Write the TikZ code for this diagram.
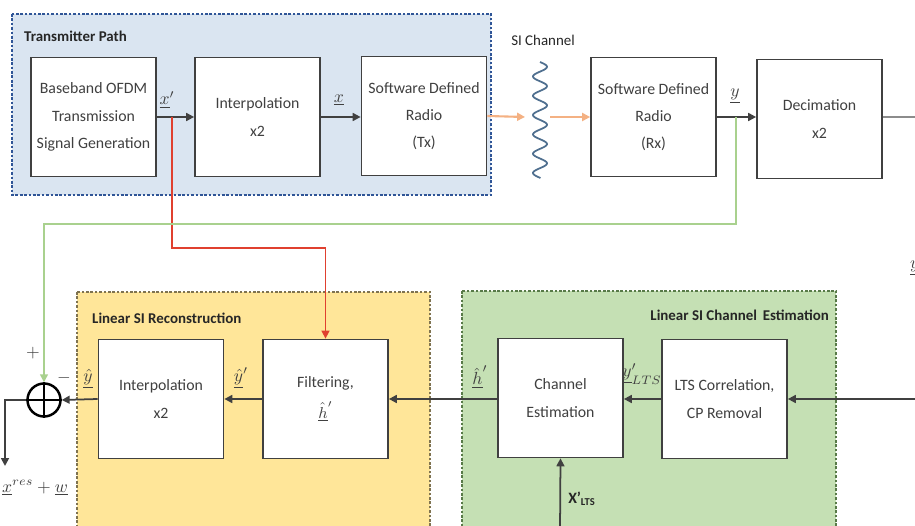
\documentclass[tikz,border=0pt]{standalone}
\usepackage{fontspec}
\setmainfont{Carlito}
\usetikzlibrary{arrows.meta,positioning}

\definecolor{txblue}{HTML}{DAE5F1}
\definecolor{txborder}{HTML}{2F5597}
\definecolor{recyellow}{HTML}{FFE699}
\definecolor{recborder}{HTML}{7F7350}
\definecolor{estgreen}{HTML}{C5E0B4}
\definecolor{estborder}{HTML}{587A48}
\definecolor{wire}{HTML}{404040}
\definecolor{rfwire}{HTML}{F4B183}
\definecolor{loopgreen}{HTML}{A9D18E}
\definecolor{loopred}{HTML}{E0402F}
\definecolor{wavecol}{HTML}{4F6F8F}

\tikzset{
  block/.style={draw=wire, line width=1pt, fill=white, minimum width=2.5cm,
    minimum height=2.38cm, align=center, text=wire,
    font=\fontsize{9}{15.5}\selectfont},
  area/.style={dash pattern=on 1.5pt off 1pt, line width=0.6pt},
  title/.style={font=\fontsize{8.5}{10}\selectfont\bfseries, text=black!85},
  sig/.style={font=\fontsize{10}{12}\selectfont, text=wire, inner sep=1pt},
  flow/.style={draw=wire, line width=1pt, -{Triangle[length=4.5pt,width=4.5pt]}},
  rf/.style={draw=rfwire, line width=1.2pt, -{Triangle[length=4.5pt,width=4.5pt]}},
  summer/.style={circle, draw=black, line width=1.4pt, minimum size=0.66cm, inner sep=0pt},
}

\begin{document}
\begin{tikzpicture}[x=0.02cm, y=-0.02cm]

  \useasboundingbox (0,0) rectangle (915,526);

  % Areas
  \draw [area, draw=txborder, fill=txblue] (12,14) rectangle (491,195);
  \draw [area, draw=recborder, fill=recyellow] (77,292) rectangle (430,540);
  \draw [area, draw=estborder, fill=estgreen] (462,291) rectangle (836,540);

  \node [title, anchor=west] (txtitle) at (18,36) {Transmitter Path};
  \node [title, anchor=west] (rectitle) at (86,318) {Linear SI Reconstruction};
  \node [title, anchor=east] (esttitle) at (835,315) {Linear SI Channel\ \,Estimation};

  % Transmit / receive chain
  \node [block] (gen) at (93.5,117) {Baseband OFDM\\Transmission\\Signal Generation};
  \node [block] (interp) at (257.5,117) {Interpolation\\x2};
  \node [block] (sdrtx) at (424,116) {Software Defined\\Radio\\(Tx)};
  \node [block] (sdrrx) at (653.5,117) {Software Defined\\Radio\\(Rx)};
  \node [block] (decim) at (819.5,119) {Decimation\\x2};

  \node [font=\fontsize{8.5}{10}\selectfont, text=black!85] (silabel) at (543,40) {SI Channel};

  % Reconstruction / estimation chain
  \node [block] (interprec) at (161,399) {Interpolation\\x2};
  \node [block] (filt) at (325.5,399) {Filtering,\\[2pt]$\underline{\hat{h}}'$};
  \node [block] (chest) at (560.5,398) {Channel\\Estimation};
  \node [block] (lts) at (724.5,399) {LTS Correlation,\\CP Removal};

  \node [summer] (sum) at (44,400) {};
  \draw [line width=1.4pt] (sum.north) -- (sum.south) (sum.west) -- (sum.east);

  \coordinate (xtap) at (172,117);
  \coordinate (xgo) at (172,248);
  \coordinate (ytap) at (736,117);
  \coordinate (ygo) at (736,224);
  \coordinate (siin) at (525,117);
  \coordinate (siout) at (550,117);
  \coordinate (decout) at (916,117);
  \coordinate (rxin) at (916,399);
  \coordinate (xlts) at (560,530);
  \coordinate (outcorner) at (5,400);
  \coordinate (outend) at (5,466);

  % SI channel
  \draw [wavecol, line width=1pt] plot [domain=0:116, samples=150, smooth]
    ({540+7*sin(18.65*\x)}, {62+\x});
  \draw [rf] (sdrtx.east) -- (siin);
  \draw [rf] (siout) -- (sdrrx.west);

  % Connectors
  \draw [flow] (gen.east) -- (interp.west);
  \draw [flow] (interp.east) -- (sdrtx.west |- interp.east);
  \draw [flow] (sdrrx.east) -- (decim.west |- sdrrx.east);
  \draw [draw=black!45, line width=1pt] (decim.east |- decout) -- (decout);

  \draw [draw=loopred, line width=0.8pt, -{Triangle[length=4.5pt,width=4.5pt]}]
    (xtap) -- (xgo) -| (filt.north);
  \draw [draw=loopgreen, line width=0.8pt, -{Triangle[length=4.5pt,width=4.5pt]}]
    (ytap) -- (ygo) -| (sum.north);

  \draw [flow] (rxin) -- (lts.east);
  \draw [flow] (lts.west) -- (chest.east |- lts.west);
  \draw [flow] (chest.west |- filt.east) -- (filt.east);
  \draw [flow] (filt.west) -- (interprec.east);
  \draw [flow] (interprec.west) -- (sum.east);
  \draw [flow] (sum.west) -- (outcorner) -- (outend);
  \draw [flow] (xlts) -- (chest.south);

  % Signal labels
  \node [sig] (xplabel) at (167,100) {$\underline{x}'$};
  \node [sig] (xlabel) at (339,100) {$\underline{x}$};
  \node [sig] (ylabel) at (735,96) {$\underline{y}$};
  \node [sig, anchor=west] (yedge) at (908,268) {$\underline{y}$};
  \node [sig] (hlabel) at (480,377) {$\underline{\hat{h}}'$};
  \node [sig] (ypltslabel) at (642,374) {$\underline{y}'_{LTS}$};
  \node [sig] (yhplabel) at (241,378) {$\underline{\hat{y}}'$};
  \node [sig] (yhlabel) at (88,379) {$\underline{\hat{y}}$};
  \node [sig] (pluslabel) at (33,353) {$+$};
  \node [sig] (minuslabel) at (64,378) {$-$};
  \node [sig] (outlabel) at (35,488) {$\underline{x}^{res}+\underline{w}$};
  \node [font=\fontsize{9}{10}\selectfont\bfseries, text=black!85] (xltslabel) at (582,499)
    {X'\textsubscript{LTS}};

\end{tikzpicture}
\end{document}
